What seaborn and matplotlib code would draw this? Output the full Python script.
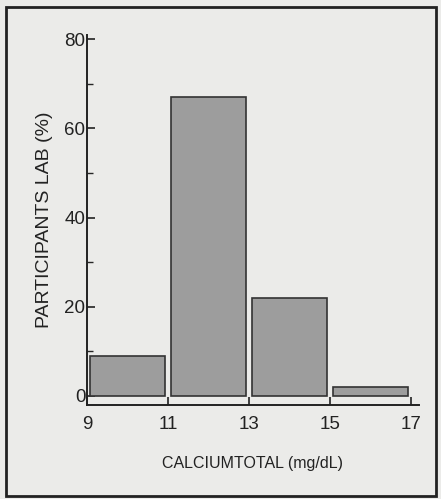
import matplotlib
matplotlib.use("Agg")
import matplotlib.pyplot as plt
import seaborn as sns
import numpy as np
from matplotlib.patches import Rectangle
from matplotlib.ticker import MultipleLocator

# bins of total calcium (mg/dL) and share of participant labs (%)
bin_edges = [9, 11, 13, 15, 17]
bin_centers = [10, 12, 14, 16]
pct_labs = [9, 67, 22, 2]
x_ticks = [9, 11, 13, 15, 17]
y_ticks = [0, 20, 40, 60, 80]

sns.set_style("ticks")
plt.rcParams["font.family"] = ["Liberation Sans", "DejaVu Sans"]

fig = plt.figure(figsize=(4.41, 4.99), dpi=100)
fig.patch.set_facecolor("#ebebe9")
ax = fig.add_axes([0.197, 0.188, 0.753, 0.742])
ax.set_facecolor("#ebebe9")

sns.histplot(x=bin_centers, weights=pct_labs, bins=bin_edges, shrink=0.92,
             color="#9d9d9d", edgecolor="#333333", linewidth=1.2, alpha=1, ax=ax)

ax.set_xlim(9, 17.2)
ax.set_ylim(-2.1, 81)
ax.set_xticks(x_ticks)
ax.set_yticks(y_ticks)
ax.yaxis.set_minor_locator(MultipleLocator(10))
ax.tick_params(axis="both", direction="in", length=6, width=1.2, labelsize=13.5, colors="#222222")
ax.tick_params(axis="y", which="minor", direction="in", length=4, width=1)
ax.tick_params(axis="y", pad=1)
ax.tick_params(axis="x", pad=8)
for s in ["top", "right"]:
    ax.spines[s].set_visible(False)
for s in ["left", "bottom"]:
    ax.spines[s].set_linewidth(1.4)
    ax.spines[s].set_color("#222222")

ax.set_xlabel("CALCIUMTOTAL (mg/dL)", fontsize=11.5, color="#222222", labelpad=16)
ax.set_ylabel("PARTICIPANTS LAB (%)", fontsize=14, color="#222222", labelpad=8)

fig.patches.append(Rectangle((0.014, 0.006), 0.974, 0.98, transform=fig.transFigure,
                             fill=False, edgecolor="#222222", linewidth=2))

fig.savefig("out.png", dpi=100, facecolor=fig.get_facecolor())
